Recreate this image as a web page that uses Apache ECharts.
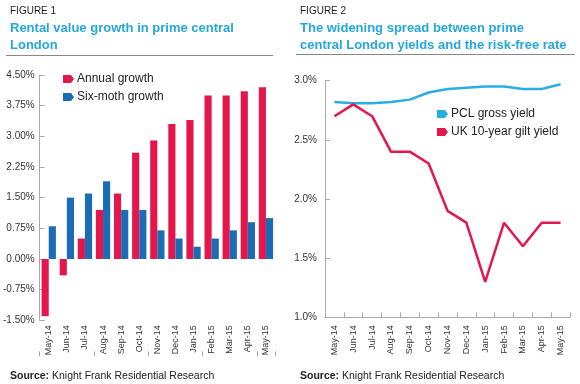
<!DOCTYPE html>
<html>
<head>
<meta charset="utf-8">
<script src="https://cdn.jsdelivr.net/npm/echarts@6/dist/echarts.min.js"></script>
<style>html,body{margin:0;padding:0;background:#fff}#c{width:580px;height:384px}</style>
</head>
<body>
<div id="c"></div>
<script>
const months = ['May-14','Jun-14','Jul-14','Aug-14','Sep-14','Oct-14','Nov-14','Dec-14','Jan-15','Feb-15','Mar-15','Apr-15','May-15'];
const annualGrowth = [-1.4,-0.4,0.5,1.2,1.6,2.6,2.9,3.3,3.4,4.0,4.0,4.1,4.2];
const sixMonthGrowth = [0.8,1.5,1.6,1.9,1.2,1.2,0.7,0.5,0.3,0.5,0.7,0.9,1.0];
const pclGrossYield = [2.82,2.81,2.81,2.82,2.84,2.90,2.93,2.94,2.95,2.95,2.93,2.93,2.97];
const giltYield = [2.7,2.8,2.7,2.4,2.4,2.3,1.9,1.8,1.3,1.8,1.6,1.8,1.8];

const RED = '#e3174b', BLUE = '#1a6cb5', LBLUE = '#2aaee2', TBLUE = '#27a6dc';
const FONT = '"Liberation Sans", Arial, sans-serif';
const tag = 'path://M0,0 L8,0 L11,4 L8,8 L0,8 Z';

const chart = echarts.init(document.getElementById('c'), null, {renderer:'canvas'});
const axLbl = {color:'#333', fontSize:10, fontFamily:FONT};
const srcStyle = {fontSize:10.5, fontWeight:'normal', color:'#222', fontFamily:FONT, rich:{b:{fontSize:10.5, fontWeight:'bold', color:'#222', fontFamily:FONT}}};
chart.setOption({
  animation:false,
  textStyle:{fontFamily:FONT},
  title:[
    {text:'FIGURE 1', left:5, top:1, textStyle:{fontSize:10, fontWeight:'normal', color:'#222', fontFamily:FONT}},
    {text:'Rental value growth in prime central\nLondon', left:5, top:15, textStyle:{fontSize:13, fontWeight:'bold', color:TBLUE, lineHeight:17, fontFamily:FONT}},
    {text:'FIGURE 2', left:295, top:1, textStyle:{fontSize:10, fontWeight:'normal', color:'#222', fontFamily:FONT}},
    {text:'The widening spread between prime\ncentral London yields and the risk-free rate', left:295, top:15, textStyle:{fontSize:13, fontWeight:'bold', color:TBLUE, lineHeight:17, fontFamily:FONT, letterSpacing:-0.15}},
    {text:'{b|Source:} Knight Frank Residential Research', left:5, top:366, textStyle:srcStyle},
    {text:'{b|Source:} Knight Frank Residential Research', left:295, top:366, textStyle:srcStyle}
  ],
  graphic:[
    {type:'line', shape:{x1:6, y1:55.5, x2:273, y2:55.5}, style:{stroke:'#888', lineWidth:1}},
    {type:'line', shape:{x1:296, y1:54.5, x2:575, y2:54.5}, style:{stroke:'#888', lineWidth:1}}
  ],
  legend:[
    {data:['Annual growth','Six-moth growth'], orient:'vertical', left:58, top:68, itemWidth:11, itemHeight:8, itemGap:6, icon:tag,
     textStyle:{fontSize:12, color:'#222', fontFamily:FONT, padding:[0,0,0,-2]}},
    {data:['PCL gross yield','UK 10-year gilt yield'], orient:'vertical', left:432, top:103, itemWidth:11, itemHeight:8, itemGap:6, icon:tag,
     textStyle:{fontSize:12, color:'#222', fontFamily:FONT, padding:[0,0,0,-2]}}
  ],
  grid:[
    {left:39, top:75, width:236, height:245.3},
    {left:325, top:80.7, width:245, height:236.6}
  ],
  xAxis:[
    {type:'category', gridIndex:0, data:months, position:'bottom',
     axisLine:{show:false}, axisTick:{show:false},
     axisLabel:Object.assign({rotate:90, margin:5}, axLbl, {fontSize:9})},
    {type:'category', gridIndex:0, data:months, position:'bottom', offset:31,
     axisLine:{show:false}, axisTick:{show:true, length:5, lineStyle:{color:'#aaa'}},
     axisLabel:{show:false}},
    {type:'category', gridIndex:1, data:months,
     axisLine:{show:true, lineStyle:{color:'#aaa', width:1}},
     axisTick:{show:true, inside:true, length:5, lineStyle:{color:'#aaa'}},
     axisLabel:Object.assign({rotate:90, margin:8}, axLbl, {fontSize:9})}
  ],
  yAxis:[
    {type:'value', gridIndex:0, min:-1.5, max:4.5, interval:0.75,
     axisLine:{show:true, lineStyle:{color:'#aaa'}},
     axisTick:{show:true, inside:true, length:5, lineStyle:{color:'#aaa'}},
     splitLine:{show:false},
     axisLabel:Object.assign({margin:5, formatter:v=>v.toFixed(2)+'%'}, axLbl)},
    {type:'value', gridIndex:1, min:1.0, max:3.0, interval:0.5,
     axisLine:{show:true, lineStyle:{color:'#aaa'}},
     axisTick:{show:true, inside:true, length:5, lineStyle:{color:'#aaa'}},
     splitLine:{show:false},
     axisLabel:Object.assign({margin:8, formatter:v=>v.toFixed(1)+'%'}, axLbl)}
  ],
  series:[
    {name:'Annual growth', type:'bar', xAxisIndex:0, yAxisIndex:0, data:annualGrowth, itemStyle:{color:RED}, barGap:'0%', barCategoryGap:'21%'},
    {name:'Six-moth growth', type:'bar', xAxisIndex:0, yAxisIndex:0, data:sixMonthGrowth, itemStyle:{color:BLUE}, barGap:'0%', barCategoryGap:'21%'},
    {name:'PCL gross yield', type:'line', xAxisIndex:2, yAxisIndex:1, data:pclGrossYield, showSymbol:false, symbol:'none', itemStyle:{color:LBLUE}, lineStyle:{color:LBLUE, width:2.5}},
    {name:'UK 10-year gilt yield', type:'line', xAxisIndex:2, yAxisIndex:1, data:giltYield, showSymbol:false, symbol:'none', itemStyle:{color:RED}, lineStyle:{color:RED, width:2.5}}
  ]
});
</script>
</body>
</html>
